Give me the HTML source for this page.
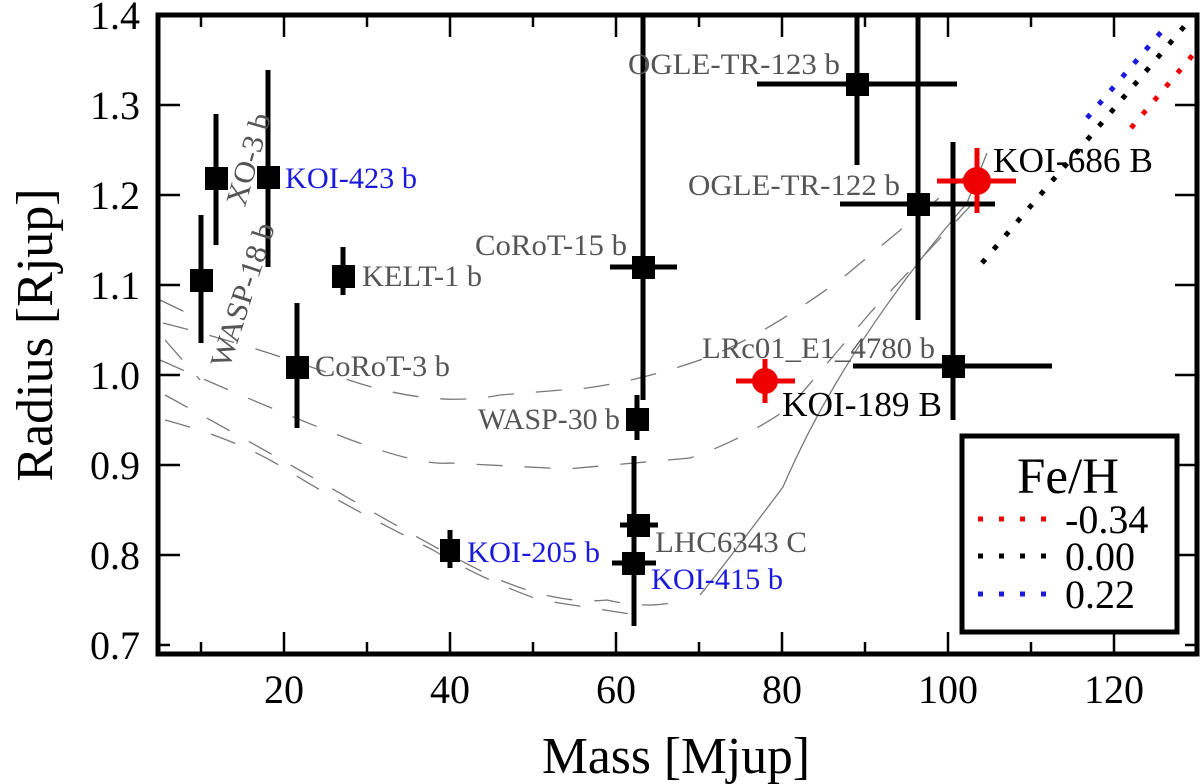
<!DOCTYPE html>
<html><head><meta charset="utf-8"><style>
html,body{margin:0;padding:0;background:#fff;}
svg{display:block;}
svg text{font-family:"Liberation Serif","DejaVu Serif",serif !important;}
</style></head><body>
<svg width="1200" height="784" viewBox="0 0 1200 784" xmlns="http://www.w3.org/2000/svg" font-family="Liberation Serif, DejaVu Serif, serif">
<g fill="none" stroke="#777" stroke-width="1.3" stroke-dasharray="26 22">
<path d="M163,323 Q250,345 340,377 T500,395 L587,388 Q643,380 700,360 T840,280 L985,160"/>
<path d="M160,360 Q250,400 333,433 T450,463 L567,469 L690,458 Q743,440 790,407 L870,313 L990,185"/>
<path d="M165,395 Q260,447 357,503 T500,580 Q560,605 607,600 Q650,610 683,600"/>
<path d="M165,420 Q240,440 287,470 T433,550 Q483,580 540,600 L630,614"/>
<path d="M160,300 L185,312 M165,340 L200,380"/>
</g>
<path d="M700,595 Q723,567 783,487 Q843,347 967,203 L987,153" fill="none" stroke="#777" stroke-width="1.3"/>
<g fill="none" stroke-width="5" stroke-dasharray="5 13">
<line x1="982" y1="263" x2="1188" y2="22" stroke="#000"/>
<line x1="1087" y1="118" x2="1168" y2="24" stroke="#1a1adc"/>
<line x1="1131" y1="128" x2="1197" y2="50" stroke="#e00"/>
</g>
<g stroke="#000" stroke-width="5" fill="none">
<line x1="201" y1="215" x2="201" y2="343"/>
<line x1="216" y1="114" x2="216" y2="245"/>
<line x1="268" y1="70" x2="268" y2="267"/>
<line x1="343" y1="247" x2="343" y2="295"/>
<line x1="297" y1="303" x2="297" y2="428"/>
<line x1="643" y1="15" x2="643" y2="400"/><line x1="610" y1="267" x2="677" y2="267"/>
<line x1="637" y1="395" x2="637" y2="440"/>
<line x1="634" y1="456" x2="634" y2="626"/><line x1="620" y1="525" x2="658" y2="525"/>
<line x1="612" y1="563" x2="656" y2="563"/>
<line x1="450" y1="530" x2="450" y2="568"/>
<line x1="857" y1="15" x2="857" y2="165"/><line x1="757" y1="84" x2="957" y2="84"/>
<line x1="918" y1="15" x2="918" y2="320"/><line x1="840" y1="204" x2="995" y2="204"/>
<line x1="953" y1="142" x2="953" y2="420"/><line x1="853" y1="366" x2="1052" y2="366"/>
</g>
<g fill="#000">
<rect x="190" y="269" width="23" height="23"/>
<rect x="205" y="167" width="23" height="23"/>
<rect x="257" y="166" width="23" height="23"/>
<rect x="332" y="265" width="23" height="23"/>
<rect x="286" y="356" width="23" height="23"/>
<rect x="632" y="256" width="23" height="23"/>
<rect x="626" y="408" width="23" height="23"/>
<rect x="627" y="514" width="23" height="23"/>
<rect x="622" y="552" width="23" height="23"/>
<rect x="440" y="539" width="20" height="23"/>
<rect x="846" y="73" width="23" height="23"/>
<rect x="907" y="193" width="23" height="23"/>
<rect x="942" y="355" width="23" height="23"/>
</g>
<g stroke="#e00" stroke-width="5">
<line x1="977" y1="148" x2="977" y2="213"/><line x1="937" y1="181" x2="1016" y2="181"/>
<line x1="765" y1="359" x2="765" y2="403"/><line x1="736" y1="381" x2="795" y2="381"/>
</g>
<circle cx="977" cy="181" r="14" fill="#e00"/>
<circle cx="765" cy="381" r="13" fill="#e00"/>
<g font-size="30" fill="#555">
<text x="628" y="74" textLength="212" lengthAdjust="spacingAndGlyphs">OGLE-TR-123 b</text>
<text x="688" y="195" textLength="212" lengthAdjust="spacingAndGlyphs">OGLE-TR-122 b</text>
<text x="475" y="255" textLength="152" lengthAdjust="spacingAndGlyphs">CoRoT-15 b</text>
<text x="362" y="286" textLength="120" lengthAdjust="spacingAndGlyphs">KELT-1 b</text>
<text x="315" y="376" textLength="135" lengthAdjust="spacingAndGlyphs">CoRoT-3 b</text>
<text x="702" y="358" textLength="233" lengthAdjust="spacingAndGlyphs">LRc01_E1_4780 b</text>
<text x="478" y="429" textLength="142" lengthAdjust="spacingAndGlyphs">WASP-30 b</text>
<text x="655" y="552" textLength="152" lengthAdjust="spacingAndGlyphs">LHC6343 C</text>
<text text-anchor="middle" transform="translate(258,162) rotate(-74)" textLength="95" lengthAdjust="spacingAndGlyphs">XO-3 b</text>
<text text-anchor="middle" transform="translate(252,298) rotate(-72)" textLength="150" lengthAdjust="spacingAndGlyphs">WASP-18 b</text>
</g>
<g font-size="30" fill="#1a1adc">
<text x="467" y="562" textLength="133" lengthAdjust="spacingAndGlyphs">KOI-205 b</text>
<text x="651" y="589" textLength="132" lengthAdjust="spacingAndGlyphs">KOI-415 b</text>
<text x="285" y="188" textLength="132" lengthAdjust="spacingAndGlyphs">KOI-423 b</text>
</g>
<g font-size="35" fill="#000">
<text x="993" y="172" textLength="160" lengthAdjust="spacingAndGlyphs">KOI-686 B</text>
<text x="782" y="416" textLength="160" lengthAdjust="spacingAndGlyphs">KOI-189 B</text>
</g>
<rect x="158" y="15" width="1039" height="639" fill="none" stroke="#000" stroke-width="5"/>
<g stroke="#000" stroke-width="2.5">
<line x1="158" y1="105" x2="180" y2="105"/><line x1="158" y1="195" x2="180" y2="195"/>
<line x1="158" y1="285" x2="180" y2="285"/><line x1="158" y1="375" x2="180" y2="375"/>
<line x1="158" y1="465" x2="180" y2="465"/><line x1="158" y1="555" x2="180" y2="555"/>
<line x1="158" y1="645" x2="170" y2="645"/>
<line x1="1197" y1="105" x2="1175" y2="105"/><line x1="1197" y1="195" x2="1175" y2="195"/>
<line x1="1197" y1="285" x2="1175" y2="285"/><line x1="1197" y1="375" x2="1175" y2="375"/>
<line x1="1197" y1="465" x2="1175" y2="465"/><line x1="1197" y1="555" x2="1175" y2="555"/>
<line x1="1197" y1="645" x2="1185" y2="645"/>
<line x1="201" y1="654" x2="201" y2="642"/><line x1="284" y1="654" x2="284" y2="632"/>
<line x1="367" y1="654" x2="367" y2="642"/><line x1="450" y1="654" x2="450" y2="632"/>
<line x1="533" y1="654" x2="533" y2="642"/><line x1="616" y1="654" x2="616" y2="632"/>
<line x1="699" y1="654" x2="699" y2="642"/><line x1="782" y1="654" x2="782" y2="632"/>
<line x1="865" y1="654" x2="865" y2="642"/><line x1="948" y1="654" x2="948" y2="632"/>
<line x1="1031" y1="654" x2="1031" y2="642"/><line x1="1114" y1="654" x2="1114" y2="632"/>
<line x1="201" y1="15" x2="201" y2="27"/><line x1="284" y1="15" x2="284" y2="37"/>
<line x1="367" y1="15" x2="367" y2="27"/><line x1="450" y1="15" x2="450" y2="37"/>
<line x1="533" y1="15" x2="533" y2="27"/><line x1="616" y1="15" x2="616" y2="37"/>
<line x1="699" y1="15" x2="699" y2="27"/><line x1="782" y1="15" x2="782" y2="37"/>
<line x1="865" y1="15" x2="865" y2="27"/><line x1="948" y1="15" x2="948" y2="37"/>
<line x1="1031" y1="15" x2="1031" y2="27"/><line x1="1114" y1="15" x2="1114" y2="37"/>
</g>
<g text-anchor="end" font-size="40">
<text x="140" y="29">1.4</text><text x="140" y="119">1.3</text>
<text x="140" y="209">1.2</text><text x="140" y="299">1.1</text>
<text x="140" y="389">1.0</text><text x="140" y="479">0.9</text>
<text x="140" y="569">0.8</text><text x="140" y="659">0.7</text>
</g>
<g text-anchor="middle" font-size="40">
<text x="284" y="703">20</text><text x="450" y="703">40</text>
<text x="616" y="703">60</text><text x="782" y="703">80</text>
<text x="948" y="703">100</text><text x="1114" y="703">120</text>
</g>
<text x="542" y="773" font-size="52" textLength="268" lengthAdjust="spacingAndGlyphs">Mass [Mjup]</text>
<text transform="translate(52,335) rotate(-90)" text-anchor="middle" font-size="52">Radius [Rjup]</text>
<rect x="962" y="436" width="215" height="196" fill="#fff" stroke="#000" stroke-width="5"/>
<text x="1068" y="493" font-size="51" text-anchor="middle">Fe/H</text>
<g stroke-width="5" stroke-dasharray="5 16">
<line x1="978" y1="519" x2="1062" y2="519" stroke="#e00"/>
<line x1="978" y1="556" x2="1062" y2="556" stroke="#000"/>
<line x1="978" y1="594" x2="1062" y2="594" stroke="#1a1adc"/>
</g>
<text x="1065" y="533" font-size="40">-0.34</text>
<text x="1065" y="570" font-size="40">0.00</text>
<text x="1065" y="608" font-size="40">0.22</text>
</svg>
</body></html>
